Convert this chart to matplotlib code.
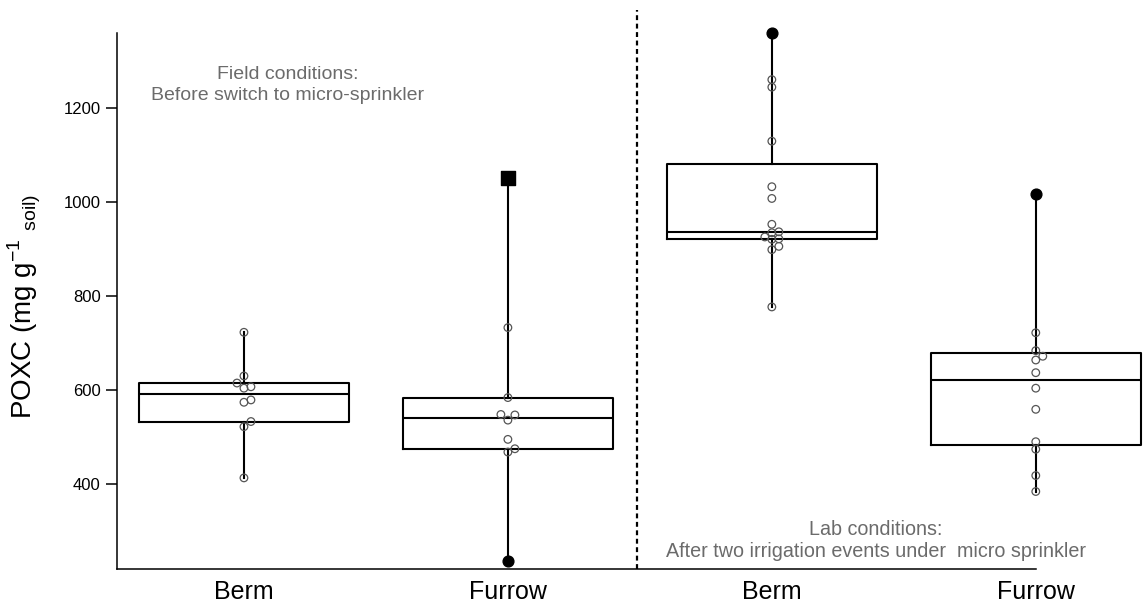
import numpy as np
import matplotlib
matplotlib.use("Agg")
import matplotlib.pyplot as plt

plt.rcParams["font.family"] = ["Liberation Sans", "DejaVu Sans"]

# POXC measurements (mg g-1 soil) per group
group_labels = ["Berm", "Furrow", "Berm", "Furrow"]
berm_field = [413, 522, 533, 574, 579, 604, 607, 615, 630, 723]
furrow_field = [468, 475, 495, 536, 547, 548, 584, 733]
berm_lab = [777, 899, 906, 921, 922, 926, 935, 937, 953, 1008, 1033, 1130, 1245, 1261]
furrow_lab = [384, 418, 474, 490, 559, 604, 637, 664, 672, 684, 722]

# highlighted extreme observations: (group index, value, marker)
highlighted = [(1, 1052, "s"), (1, 237, "o"), (2, 1361, "o"), (3, 1017, "o")]

field_note = "Field conditions:\nBefore switch to micro-sprinkler"
lab_note = "Lab conditions:\nAfter two irrigation events under  micro sprinkler"

open_groups = [berm_field, furrow_field, berm_lab, furrow_lab]
positions = [1, 2, 3, 4]


def fivenum(vals):
    x = np.sort(np.asarray(vals, dtype=float))
    n = len(x)
    n4 = np.floor((n + 3) / 2) / 2
    d = np.array([1, n4, (n + 1) / 2, n + 1 - n4, n]) - 1
    return 0.5 * (x[np.floor(d).astype(int)] + x[np.ceil(d).astype(int)])


fig = plt.figure(figsize=(11.44, 6.03), dpi=100)
ax = fig.add_axes([0.1025, 0.0564, 0.8975, 0.8894])
ax.set_xlim(0.52, 4.41)
ax.set_ylim(219, 1361)

# box statistics from all observations in each group
stats = []
for i, vals in enumerate(open_groups):
    allv = list(vals) + [v for g, v, m in highlighted if g == i]
    lo, q1, med, q3, hi = fivenum(allv)
    stats.append(dict(med=med, q1=q1, q3=q3, whislo=lo, whishi=hi, fliers=[]))

line_kw = dict(color="black", linewidth=1.5)
ax.bxp(stats, positions=positions, widths=0.795, showcaps=False, showfliers=False,
       boxprops=line_kw, whiskerprops=line_kw, medianprops=line_kw)

# jittered open points, spread so circles don't stack on each other
fig.canvas.draw()
to_disp = ax.transData
to_data = ax.transData.inverted()
step_px = 7.0
min_d = 6.5
for pos, vals in zip(positions, open_groups):
    placed = []
    for v in sorted(vals):
        cx, cy = to_disp.transform((pos, v))
        for k in [0, 1, -1, 2, -2, 3, -3]:
            px = cx + k * step_px
            if all(np.hypot(px - qx, cy - qy) >= min_d for qx, qy in placed):
                break
        placed.append((px, cy))
    pts = to_data.transform(np.array(placed))
    ax.scatter(pts[:, 0], pts[:, 1], s=30, facecolors="none", edgecolors="#555555",
               linewidths=0.9, zorder=4, clip_on=False)

for g, v, m in highlighted:
    size = 110 if m == "s" else 60
    ax.scatter([positions[g]], [v], marker=m, s=size, color="black", zorder=5, clip_on=False)

# separator between field and lab sets
ax.plot([2.49, 2.49], [0, 1.042], transform=ax.get_xaxis_transform(), color="black",
        linewidth=1.6, linestyle=(0, (2.2, 1.6)), clip_on=False)

ax.text(1.167, 1249, field_note, ha="center", va="center", fontsize=14, color="#6b6b6b",
        linespacing=1.3)
ax.text(3.395, 280, lab_note, ha="center", va="center", fontsize=14.2, color="#6b6b6b",
        linespacing=1.2)

# axes styling
for s in ["top", "right"]:
    ax.spines[s].set_visible(False)
ax.spines["left"].set_linewidth(1.1)
ax.spines["bottom"].set_linewidth(1.1)
ax.spines["bottom"].set_bounds(0.52, 4)

ax.set_yticks([400, 600, 800, 1000, 1200])
ax.tick_params(axis="y", length=8, width=1.1, labelsize=12, pad=4)
ax.set_xticks(positions)
ax.set_xticklabels(group_labels, fontsize=18)
ax.tick_params(axis="x", length=0, pad=8)

ax.set_ylabel(r"POXC (mg g$^{\mathregular{-1}}$ $_{\mathregular{soil)}}$", fontsize=20)
ax.yaxis.set_label_coords(-0.072, 0.49)

fig.savefig("out.png", dpi=100)
